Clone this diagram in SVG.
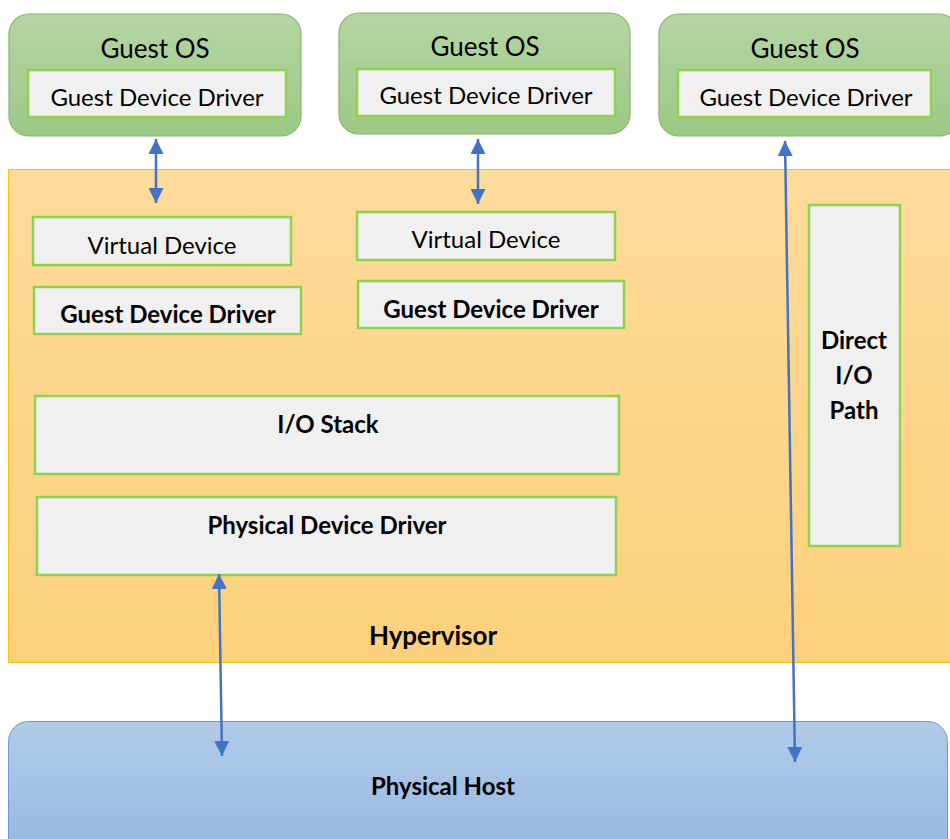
<svg xmlns="http://www.w3.org/2000/svg" width="950" height="839" viewBox="0 0 950 839">
<defs>
<linearGradient id="gGreen" x1="0" y1="0" x2="0" y2="1"><stop offset="0" stop-color="#b5d5a5"/><stop offset="1" stop-color="#9cc985"/></linearGradient>
<linearGradient id="gOrange" x1="0" y1="0" x2="0" y2="1"><stop offset="0" stop-color="#fddb9b"/><stop offset="1" stop-color="#fdd17b"/></linearGradient>
<linearGradient id="gBlue" x1="0" y1="0" x2="0" y2="1"><stop offset="0" stop-color="#b2cbe8"/><stop offset="1" stop-color="#93b6e2"/></linearGradient>
<marker id="ah" viewBox="0 0 10 10" refX="10" refY="5" markerWidth="6" markerHeight="6" orient="auto-start-reverse" markerUnits="strokeWidth"><path d="M0,0 L10,5 L0,10 z" fill="#4472c4"/></marker>
<style>
.os{fill:url(#gGreen);stroke:#82b865;stroke-width:1.2}
.box{fill:#f0f0f0;stroke:#92d050;stroke-width:2.5}
.t{font-family:Lato,"Open Sans",sans-serif;font-size:24px;fill:#000;text-anchor:middle}
.big{font-size:26px}
.b{font-weight:bold}
.c{stroke:#4472c4;stroke-width:2.5;fill:none;marker-start:url(#ah);marker-end:url(#ah)}
</style>
</defs>
<g id="hypervisor">
<rect x="8.5" y="169.5" width="950" height="493" fill="url(#gOrange)" stroke="#ffc000" stroke-width="1"/>
<text class="t b big" x="433" y="645">Hypervisor</text>
</g>
<g id="physical-host">
<rect x="8.5" y="721.5" width="939" height="150" rx="20" fill="url(#gBlue)" stroke="#6d9bd6" stroke-width="1"/>
<text class="t b" x="443" y="795">Physical Host</text>
</g>
<g id="guest-os-1">
<rect class="os" x="9" y="14" width="292" height="122" rx="20"/>
<text class="t big" x="155" y="58">Guest OS</text>
<rect class="box" x="28" y="70" width="258" height="47"/>
<text class="t" x="157" y="106">Guest Device Driver</text>
</g>
<g id="guest-os-2">
<rect class="os" x="339" y="13" width="291" height="121" rx="20"/>
<text class="t big" x="485" y="56">Guest OS</text>
<rect class="box" x="357" y="69" width="258" height="47"/>
<text class="t" x="486" y="104">Guest Device Driver</text>
</g>
<g id="guest-os-3">
<rect class="os" x="659" y="14" width="300" height="122" rx="20"/>
<text class="t big" x="805" y="58">Guest OS</text>
<rect class="box" x="678" y="70" width="253" height="47"/>
<text class="t" x="806" y="106">Guest Device Driver</text>
</g>
<g id="virtual-device-1">
<rect class="box" x="33" y="217" width="258" height="48"/>
<text class="t" x="162" y="254">Virtual Device</text>
</g>
<g id="guest-driver-h1">
<rect class="box" x="34" y="287" width="267" height="47"/>
<text class="t b" x="168" y="323">Guest Device Driver</text>
</g>
<g id="virtual-device-2">
<rect class="box" x="357" y="212" width="258" height="48"/>
<text class="t" x="486" y="248">Virtual Device</text>
</g>
<g id="guest-driver-h2">
<rect class="box" x="358" y="281" width="266" height="47"/>
<text class="t b" x="491" y="318">Guest Device Driver</text>
</g>
<g id="io-stack">
<rect class="box" x="35" y="396" width="584" height="78"/>
<text class="t b" x="328" y="433">I/O Stack</text>
</g>
<g id="physical-device-driver">
<rect class="box" x="37" y="497" width="579" height="78"/>
<text class="t b" x="327" y="534">Physical Device Driver</text>
</g>
<g id="direct-io-path">
<rect class="box" x="809" y="205" width="91" height="341"/>
<text class="t b" x="854" y="349">Direct</text>
<text class="t b" x="854" y="384">I/O</text>
<text class="t b" x="854" y="419">Path</text>
</g>
<g id="connectors">
<line class="c" x1="156" y1="139" x2="156" y2="203"/>
<line class="c" x1="478" y1="139" x2="478" y2="204"/>
<line class="c" x1="785" y1="141" x2="795" y2="762"/>
<line class="c" x1="219" y1="574" x2="222" y2="756"/>
</g>
</svg>
